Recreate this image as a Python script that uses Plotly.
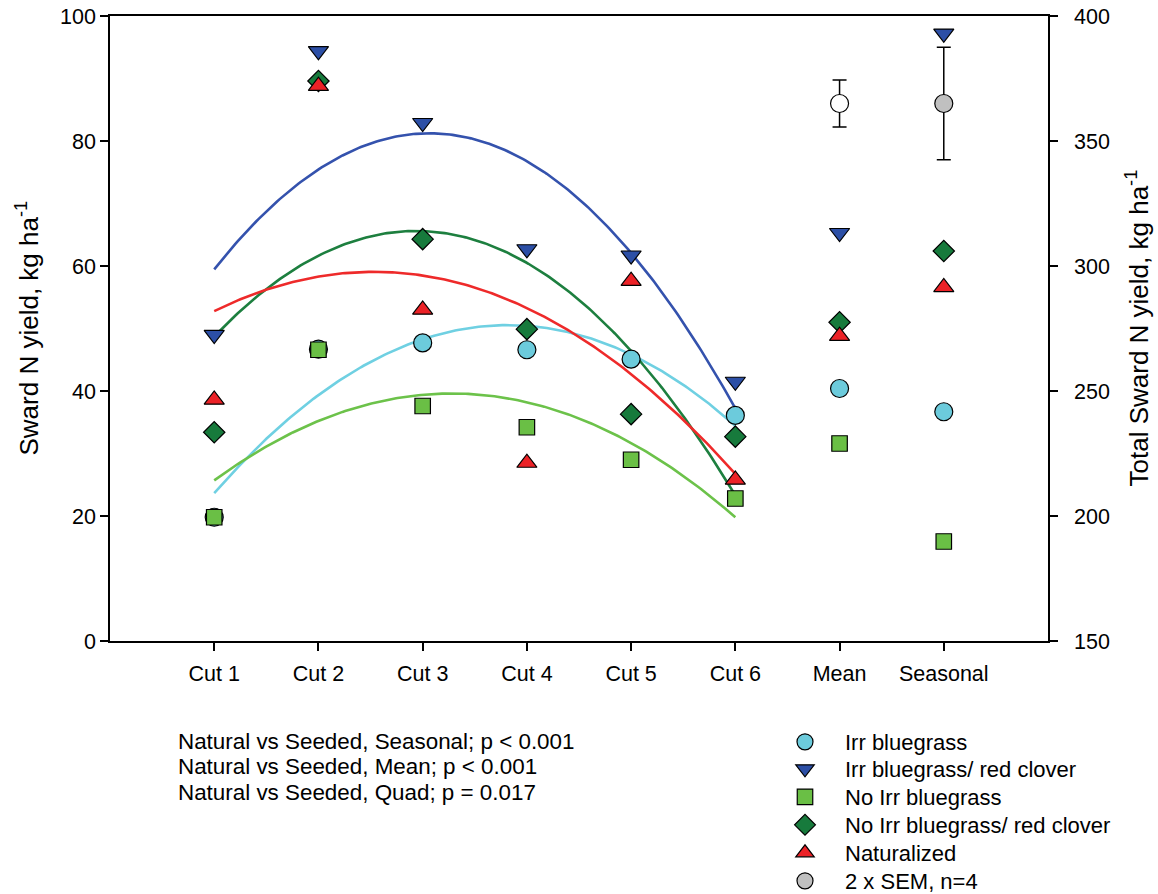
import numpy as np
import plotly.graph_objects as go

# Category labels along the x axis
categories = ["Cut 1", "Cut 2", "Cut 3", "Cut 4", "Cut 5", "Cut 6", "Mean", "Seasonal"]

# Per-cut sward N yield (kg/ha), cuts 1-6
irr_bluegrass = [19.8, 46.7, 47.7, 46.6, 45.1, 36.1]
irr_bluegrass_rc = [49.0, 94.4, 82.9, 62.7, 61.7, 41.5]
noirr_bluegrass = [19.8, 46.6, 37.6, 34.2, 29.0, 22.8]
noirr_bluegrass_rc = [33.4, 89.6, 64.3, 49.9, 36.3, 32.7]
naturalized = [38.6, 88.8, 53.0, 28.5, 57.6, 25.8]

# Mean per-cut yield (left axis) and seasonal total yield (right axis)
mean_yield = {"irr_bg": 40.4, "irr_bgrc": 65.3, "noirr_bg": 31.6, "noirr_bgrc": 51.0, "nat": 48.8}
seasonal_total = {"irr_bg": 241.7, "irr_bgrc": 393.0, "noirr_bg": 189.8, "noirr_bgrc": 306.0, "nat": 291.5}

# 2 x SEM, n=4
sem_mean_center, sem_mean_half = 86.0, 3.75
sem_seasonal_center, sem_seasonal_half = 365.0, 22.5

FONT = "Liberation Sans, Arial, sans-serif"

series = [
    ("irr_bg", "Irr bluegrass", irr_bluegrass, "circle", 18, "#6ccbdc", "#6fd0e2"),
    ("irr_bgrc", "Irr bluegrass/ red clover", irr_bluegrass_rc, "triangle-down", 17.5, "#2c4fa6", "#3452ad"),
    ("noirr_bg", "No Irr bluegrass", noirr_bluegrass, "square", 15.5, "#6abf45", "#6cc24a"),
    ("noirr_bgrc", "No Irr bluegrass/ red clover", noirr_bluegrass_rc, "diamond", 16.4, "#177a3c", "#1d7f3f"),
    ("nat", "Naturalized", naturalized, "triangle-up", 17.5, "#ec2227", "#ee2a2a"),
]

# One legend box per entry so that the rows sit on a fixed pitch
legend_ids = ["legend", "legend2", "legend3", "legend4", "legend5", "legend6"]
legend_rows_px = [742, 769, 797, 825, 853, 881]

cut_x = np.arange(1, 7)
x_mean, x_seasonal = 7, 8
fig = go.Figure()

# Quadratic trend lines fitted to the six cuts
xs = np.linspace(1, 6, 200)
for key, name, vals, sym, size, fill, lcol in series:
    coef = np.polyfit(cut_x, vals, 2)
    fig.add_trace(go.Scatter(x=xs, y=np.polyval(coef, xs), mode="lines",
                             line=dict(color=lcol, width=2.6), showlegend=False,
                             hoverinfo="skip"))

# Markers: cuts + mean on left axis, seasonal total on right axis
for i, (key, name, vals, sym, size, fill, lcol) in enumerate(series):
    mk = dict(symbol=sym, size=size, color=fill, line=dict(color="black", width=1.2))
    fig.add_trace(go.Scatter(x=list(cut_x) + [x_mean], y=list(vals) + [mean_yield[key]],
                             mode="markers", marker=mk, name=name, showlegend=True,
                             legend=legend_ids[i]))
    fig.add_trace(go.Scatter(x=[x_seasonal], y=[seasonal_total[key]], yaxis="y2",
                             mode="markers", marker=mk, name=name, showlegend=False))

# SEM symbols with error bars
eb = dict(type="constant", color="black", thickness=1.5, width=7)
fig.add_trace(go.Scatter(x=[x_mean], y=[sem_mean_center], mode="markers",
                         error_y=dict(eb, value=sem_mean_half),
                         marker=dict(symbol="circle", size=18, color="white",
                                     line=dict(color="black", width=1.2)),
                         showlegend=False))
fig.add_trace(go.Scatter(x=[x_seasonal], y=[sem_seasonal_center], yaxis="y2", mode="markers",
                         error_y=dict(eb, value=sem_seasonal_half),
                         marker=dict(symbol="circle", size=18, color="#c0c0c0",
                                     line=dict(color="black", width=1.2)),
                         name="2 x SEM, n=4", showlegend=True, legend=legend_ids[5]))

axis_common = dict(showline=True, linecolor="black", linewidth=1.5, ticks="outside",
                   ticklen=8, tickwidth=1.5, tickcolor="black", showgrid=False, zeroline=False,
                   tickfont=dict(family=FONT, size=21.5, color="black"))

PLOT_TOP, PLOT_BOTTOM, PLOT_LEFT, PLOT_W = 16, 641, 110, 938


def paper_y(py):
    return (PLOT_BOTTOM - py) / (PLOT_BOTTOM - PLOT_TOP)


def paper_x(px):
    return (px - PLOT_LEFT) / PLOT_W


legend_layout = {}
for lid, row in zip(legend_ids, legend_rows_px):
    legend_layout[lid] = dict(x=paper_x(765), y=paper_y(row), xanchor="left", yanchor="middle",
                              font=dict(family=FONT, size=22, color="black"), itemwidth=70,
                              bgcolor="rgba(0,0,0,0)", borderwidth=0)

fig.update_layout(
    width=1158, height=894,
    margin=dict(l=110, r=110, t=16, b=253, autoexpand=False),
    paper_bgcolor="white", plot_bgcolor="white",
    font=dict(family=FONT, color="black"),
    xaxis=dict(axis_common, range=[0, 9], tickvals=list(range(1, 9)), ticktext=categories,
               mirror=True, ticklabelstandoff=4),
    yaxis=dict(axis_common, range=[0, 100], tickvals=[0, 20, 40, 60, 80, 100]),
    yaxis2=dict(axis_common, range=[150, 400], tickvals=[150, 200, 250, 300, 350, 400],
                overlaying="y", side="right", ticklabelstandoff=12),
    showlegend=True,
    **legend_layout,
)

# Axis titles
fig.add_annotation(text="Sward N yield, kg ha<sup>-1</sup>", xref="paper", yref="paper",
                   x=paper_x(28), y=0.5, xanchor="center", yanchor="middle", textangle=-90,
                   showarrow=False, font=dict(family=FONT, size=26, color="black"))
fig.add_annotation(text="Total Sward N yield, kg ha<sup>-1</sup>", xref="paper", yref="paper",
                   x=paper_x(1138), y=0.5, xanchor="center", yanchor="middle", textangle=-90,
                   showarrow=False, font=dict(family=FONT, size=26, color="black"))

# Contrast statistics
stats = ["Natural vs Seeded, Seasonal; p < 0.001",
         "Natural vs Seeded, Mean; p < 0.001",
         "Natural vs Seeded, Quad; p = 0.017"]
for i, s in enumerate(stats):
    fig.add_annotation(text=s, xref="paper", yref="paper", x=paper_x(176),
                       y=paper_y(741 + 25.5 * i), xanchor="left", yanchor="middle",
                       showarrow=False, font=dict(family=FONT, size=22.4, color="black"))

fig.write_html("out.html")
